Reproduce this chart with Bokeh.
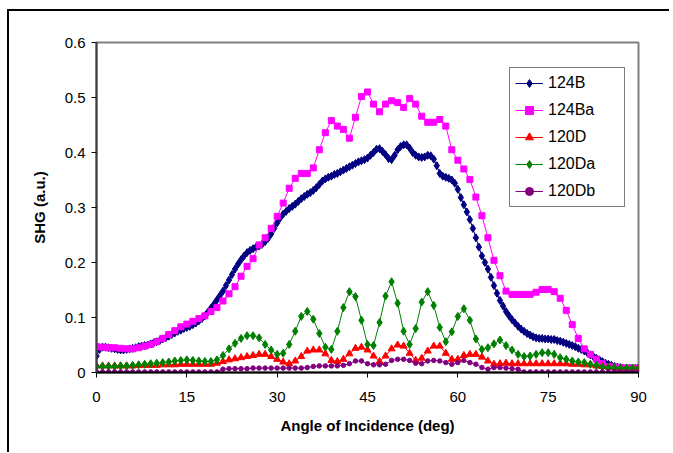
from bokeh.plotting import figure
from bokeh.models import Range1d, FixedTicker, Legend
from bokeh.embed import file_html
from bokeh.resources import INLINE

# ---------------- data ----------------
x_fine = [i * 0.5 for i in range(181)]
x_deg = list(range(91))

s124B = [
    0.030, 0.042, 0.046, 0.046, 0.045, 0.044, 0.043, 0.042, 0.041, 0.041,
    0.042, 0.043, 0.044, 0.045, 0.047, 0.048, 0.049, 0.050, 0.052, 0.054,
    0.056, 0.058, 0.061, 0.063, 0.066, 0.069, 0.072, 0.075, 0.077, 0.080,
    0.082, 0.084, 0.087, 0.090, 0.094, 0.098, 0.103, 0.110, 0.117, 0.124,
    0.132, 0.140, 0.148, 0.158, 0.168, 0.178, 0.188, 0.197, 0.205, 0.212,
    0.218, 0.222, 0.225, 0.228, 0.230, 0.233, 0.238, 0.244, 0.252, 0.262,
    0.272, 0.281, 0.288, 0.293, 0.298, 0.302, 0.306, 0.311, 0.316, 0.320,
    0.324, 0.327, 0.331, 0.336, 0.342, 0.348, 0.352, 0.355, 0.357, 0.360,
    0.362, 0.365, 0.368, 0.371, 0.374, 0.377, 0.380, 0.383, 0.385, 0.387,
    0.390, 0.395, 0.400, 0.406, 0.407, 0.402, 0.396, 0.389, 0.387, 0.395,
    0.405, 0.411, 0.414, 0.414, 0.408, 0.400, 0.395, 0.392, 0.391, 0.392,
    0.395, 0.394, 0.388, 0.376, 0.362, 0.357, 0.355, 0.353, 0.350, 0.344,
    0.333, 0.318, 0.305, 0.292, 0.278, 0.262, 0.245, 0.228, 0.212, 0.200,
    0.188, 0.173, 0.158, 0.144, 0.131, 0.121, 0.111, 0.103, 0.096, 0.090,
    0.084, 0.079, 0.075, 0.071, 0.068, 0.065, 0.063, 0.062, 0.062, 0.061,
    0.061, 0.060, 0.060, 0.058, 0.057, 0.055, 0.053, 0.051, 0.049, 0.047,
    0.044, 0.042, 0.039, 0.036, 0.032, 0.029, 0.026, 0.023, 0.020, 0.017,
    0.015, 0.013, 0.011, 0.010, 0.009, 0.008, 0.008, 0.008, 0.008, 0.008,
    0.008,
]

s124Ba = [
    0.047, 0.046, 0.045, 0.045, 0.044, 0.043, 0.043, 0.045, 0.048, 0.051,
    0.056, 0.062, 0.069, 0.076, 0.083, 0.088, 0.093, 0.098, 0.103, 0.111,
    0.118, 0.130, 0.143, 0.156, 0.175, 0.193, 0.207, 0.232, 0.245, 0.262,
    0.284, 0.308, 0.335, 0.353, 0.362, 0.362, 0.372, 0.405, 0.436, 0.458,
    0.448, 0.442, 0.426, 0.464, 0.502, 0.510, 0.488, 0.474, 0.488, 0.494,
    0.491, 0.482, 0.498, 0.488, 0.466, 0.455, 0.455, 0.460, 0.448, 0.405,
    0.386, 0.370, 0.351, 0.319, 0.285, 0.245, 0.204, 0.176, 0.148, 0.142,
    0.142, 0.142, 0.142, 0.146, 0.151, 0.151, 0.147, 0.135, 0.113, 0.087,
    0.062, 0.043, 0.033, 0.024, 0.016, 0.011, 0.010, 0.009, 0.008, 0.008,
    0.008,
]

s120D = [
    0.012, 0.012, 0.012, 0.012, 0.012, 0.012, 0.012, 0.013, 0.013, 0.013,
    0.013, 0.014, 0.014, 0.014, 0.015, 0.015, 0.015, 0.015, 0.015, 0.015,
    0.017, 0.020, 0.023, 0.025, 0.027, 0.029, 0.031, 0.033, 0.033, 0.029,
    0.024, 0.019, 0.016, 0.021, 0.029, 0.039, 0.041, 0.041, 0.034, 0.022,
    0.020, 0.024, 0.034, 0.044, 0.046, 0.041, 0.030, 0.020, 0.030, 0.043,
    0.050, 0.048, 0.035, 0.022, 0.026, 0.039, 0.048, 0.048, 0.035, 0.024,
    0.024, 0.031, 0.033, 0.033, 0.028, 0.021, 0.015, 0.016, 0.017, 0.016,
    0.016, 0.016, 0.016, 0.016, 0.016, 0.016, 0.016, 0.016, 0.016, 0.015,
    0.015, 0.014, 0.014, 0.012, 0.011, 0.010, 0.009, 0.008, 0.008, 0.008,
    0.008,
]

s120Da = [
    0.011, 0.011, 0.011, 0.011, 0.012, 0.012, 0.013, 0.014, 0.015, 0.016,
    0.017, 0.018, 0.019, 0.021, 0.022, 0.023, 0.022, 0.021, 0.020, 0.020,
    0.023, 0.031, 0.043, 0.053, 0.062, 0.067, 0.067, 0.063, 0.051, 0.041,
    0.033, 0.035, 0.051, 0.075, 0.102, 0.111, 0.097, 0.071, 0.046, 0.042,
    0.075, 0.118, 0.147, 0.138, 0.095, 0.051, 0.049, 0.091, 0.139, 0.165,
    0.126, 0.075, 0.051, 0.080, 0.128, 0.147, 0.122, 0.082, 0.056, 0.074,
    0.102, 0.116, 0.095, 0.061, 0.042, 0.045, 0.052, 0.059, 0.049, 0.041,
    0.033, 0.029, 0.030, 0.033, 0.036, 0.036, 0.033, 0.027, 0.024, 0.021,
    0.019, 0.018, 0.015, 0.013, 0.010, 0.009, 0.009, 0.008, 0.008, 0.008,
    0.008,
]

s120Db = [
    0.001, 0.001, 0.001, 0.001, 0.001, 0.001, 0.001, 0.001, 0.001, 0.001,
    0.001, 0.001, 0.001, 0.001, 0.001, 0.001, 0.001, 0.001, 0.001, 0.001,
    0.001, 0.006, 0.007, 0.007, 0.007, 0.007, 0.008, 0.008, 0.008, 0.008,
    0.008, 0.008, 0.008, 0.008, 0.008, 0.009, 0.011, 0.012, 0.012, 0.012,
    0.012, 0.013, 0.016, 0.021, 0.021, 0.016, 0.014, 0.014, 0.015, 0.022,
    0.024, 0.024, 0.022, 0.017, 0.016, 0.021, 0.022, 0.021, 0.018, 0.015,
    0.018, 0.022, 0.018, 0.015, 0.009, 0.006, 0.009, 0.009, 0.008, 0.007,
    0.006, 0.001, 0.001, 0.001, 0.001, 0.001, 0.001, 0.001, 0.001, 0.001,
    0.001, 0.001, 0.001, 0.001, 0.001, 0.001, 0.001, 0.001, 0.001, 0.001,
    0.001,
]

x_ticks = [0, 15, 30, 45, 60, 75, 90]
y_ticks = [0, 0.1, 0.2, 0.3, 0.4, 0.5, 0.6]

FONT = "Liberation Sans"

p = figure(
    width=660, height=441,
    output_backend="svg", toolbar_location=None,
    x_range=Range1d(0, 90), y_range=Range1d(0, 0.6),
    frame_width=542, frame_height=330,
    min_border_left=87, min_border_top=31, min_border_right=31, min_border_bottom=80,
)
p.styles = {"border-left": "2px solid black", "border-top": "2px solid black",
            "margin-left": "7px", "margin-top": "9px"}

p.xgrid.visible = False
p.ygrid.visible = False
p.outline_line_color = "#808080"
p.outline_line_width = 2
p.background_fill_color = "white"
p.border_fill_color = "white"

for ax in (p.xaxis[0], p.yaxis[0]):
    ax.major_label_text_font = FONT
    ax.major_label_text_font_size = "15px"
    ax.major_label_text_color = "black"
    ax.axis_label_text_font = FONT
    ax.axis_label_text_font_size = "15px"
    ax.axis_label_text_font_style = "bold"
    ax.axis_label_text_color = "black"
    ax.minor_tick_line_color = None
    ax.major_tick_out = 5
    ax.major_tick_in = 0
    ax.axis_line_width = 2
    ax.major_tick_line_width = 1

p.xaxis[0].ticker = FixedTicker(ticks=x_ticks)
p.yaxis[0].ticker = FixedTicker(ticks=y_ticks)
p.xaxis[0].axis_line_color = "black"
p.xaxis[0].major_tick_line_color = "black"
p.yaxis[0].axis_line_color = "#404040"
p.yaxis[0].major_tick_line_color = "black"
p.xaxis[0].axis_label = "Angle of Incidence (deg)"
p.yaxis[0].axis_label = "SHG (a.u.)"
p.xaxis[0].major_label_standoff = 14
p.yaxis[0].major_label_standoff = 6
p.xaxis[0].axis_label_standoff = 12
p.yaxis[0].axis_label_standoff = 14
p.yaxis[0].major_label_overrides = {0: "0"}

series = [
    ("124B", x_fine, s124B, "#000080", "diamond", 8),
    ("124Ba", x_deg, s124Ba, "#FF00FF", "square", 6),
    ("120D", x_deg, s120D, "#FF0000", "triangle", 7),
    ("120Da", x_deg, s120Da, "#008000", "diamond", 8),
    ("120Db", x_deg, s120Db, "#800080", "circle", 4.5),
]

items = []
for name, xs, ys, col, mk, sz in series:
    r1 = p.line(xs, ys, line_color=col, line_width=1)
    r2 = p.scatter(xs, ys, marker=mk, size=sz, fill_color=col, line_color=col)
    items.append((name, [r1, r2]))

legend = Legend(items=items, location=(413, 165))
legend.label_text_font = FONT
legend.label_text_font_size = "16px"
legend.label_text_color = "black"
legend.border_line_color = "black"
legend.border_line_width = 1
legend.background_fill_color = "white"
legend.background_fill_alpha = 1
legend.glyph_width = 28
legend.glyph_height = 20
legend.spacing = 7
legend.padding = 5
legend.margin = 0
legend.label_standoff = 5
legend.label_width = 71
p.add_layout(legend, "center")

open("out.html", "w").write(file_html(p, INLINE))
